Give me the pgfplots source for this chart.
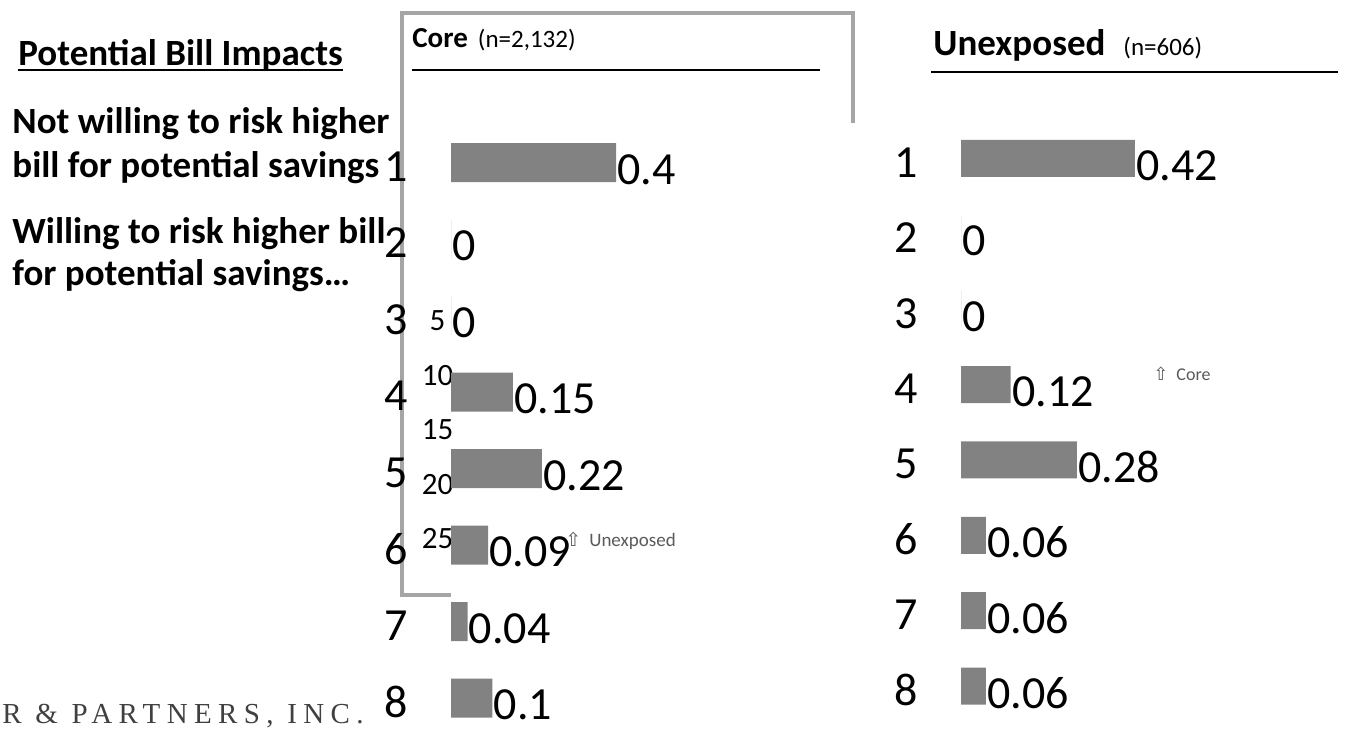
\documentclass[border=0pt]{standalone}
\usepackage{pgfplots}
\pgfplotsset{compat=1.18}
\usepackage{fontspec}
\setmainfont{Carlito}
\newfontfamily\serifx[LetterSpace=22]{Liberation Serif}
\newfontfamily\symb{DejaVu Sans}
\definecolor{barcol}{RGB}{130,130,130}
\definecolor{framecol}{RGB}{165,165,165}
\definecolor{notecol}{RGB}{90,90,90}

\pgfplotsset{
  barpanel/.style={
    scale only axis, clip=false,
    xmin=0, xmax=1, ymin=0.5, ymax=8.5, y dir=reverse,
    xtick=\empty, ytick={1,...,8},
    axis line style={draw=none}, major tick length=0pt,
    /pgf/number format/assume math mode=true,
    /pgf/number format/fixed, /pgf/number format/precision=2,
    yticklabel style={font=\fontsize{23}{23}\selectfont, anchor=east, inner sep=0pt, xshift=-21.5pt, yshift=-2pt},
    nodes near coords,
    nodes near coords style={font=\fontsize{23}{23}\selectfont, anchor=west, inner sep=0.5pt, yshift=-3.5pt, text=black},
  }
}

\begin{document}
\begin{tikzpicture}
% 1 px of the reference = 0.5pt
\useasboundingbox (0,0) rectangle (672.5pt,-370pt);
\begin{scope}[x=0.5pt,y=-0.5pt]
  % frame
  \draw[framecol, line width=2pt] (451,595) -- (402,595) -- (402,13) -- (853,13) -- (853,123);
  % left texts
  \node[anchor=base west, inner sep=0] (pbi) at (18,65) {\fontsize{18.5}{18.5}\selectfont\bfseries Potential Bill Impacts};
  \draw[line width=1.2pt] ([yshift=-2.5pt]pbi.base west) -- ([yshift=-2.5pt]pbi.base east);
  \node[anchor=base west, inner sep=0] at (12,133) {\fontsize{18.5}{18.5}\selectfont\bfseries Not willing to risk higher};
  \node[anchor=base west, inner sep=0] at (12,177) {\fontsize{18.5}{18.5}\selectfont\bfseries bill for potential savings};
  \node[anchor=base west, inner sep=0] at (12,243) {\fontsize{18.5}{18.5}\selectfont\bfseries Willing to risk higher bill};
  \node[anchor=base west, inner sep=0] at (12,285) {\fontsize{18.5}{18.5}\selectfont\bfseries for potential savings…};
  \node[anchor=base west, inner sep=0, text=black!75] at (2,723) {\serifx\fontsize{14.5}{14.5}\selectfont R \& PARTNERS, INC.};
  % titles
  \node[anchor=base west, inner sep=0] at (412,47) {\fontsize{14.5}{14.5}\selectfont\bfseries Core\hspace{5pt}{\mdseries\fontsize{12.5}{12.5}\selectfont (n=2,132)}};
  \draw[line width=1.2pt] (412,70) -- (820,70);
  \node[anchor=base west, inner sep=0] at (933,55) {\fontsize{18.5}{18.5}\selectfont\bfseries Unexposed\hspace{9pt}{\mdseries\fontsize{12.5}{12.5}\selectfont (n=606)}};
  \draw[line width=1.2pt] (931,72) -- (1338,72);
  % notes
  \node[anchor=base west, inner sep=0, text=notecol] at (1153,380) {\fontsize{9}{9}\selectfont{\symb ⇧}\hspace{4pt}Core};
  \node[anchor=base west, inner sep=0, text=notecol] at (565,546) {\fontsize{9.5}{9.5}\selectfont{\symb ⇧}\hspace{4pt}Unexposed};
\end{scope}

% stray axis numbers under the core bars
\begin{axis}[scale only axis, at={(218.75pt,-160.5pt)}, anchor=north west,
  width=1pt, height=109pt, xmin=0, xmax=1, ymin=5, ymax=25, y dir=reverse,
  xtick=\empty, ytick={5,10,...,25}, axis line style={draw=none}, major tick length=0pt,
  /pgf/number format/assume math mode=true,
  yticklabel style={font=\fontsize{15.5}{15.5}\selectfont, anchor=center, inner sep=0pt}]
  \addplot[draw=none] coordinates {(0,5) (0,25)};
\end{axis}

% Core
\begin{axis}[barpanel, at={(225.5pt,-62.125pt)}, anchor=north west,
  width=206.5pt, height=306pt]
  \addplot[xbar, fill=barcol, draw=none, bar width=19.5pt, point meta=x]
    coordinates {(0.40,1) (0,2) (0,3) (0.15,4) (0.22,5) (0.09,6) (0.04,7) (0.10,8)};
\end{axis}

% Unexposed
\begin{axis}[barpanel, at={(480.5pt,-60.4pt)}, anchor=north west,
  width=207pt, height=301.5pt]
  \addplot[xbar, fill=barcol, draw=none, bar width=18.5pt, point meta=x]
    coordinates {(0.42,1) (0,2) (0,3) (0.12,4) (0.28,5) (0.06,6) (0.06,7) (0.06,8)};
\end{axis}
\end{tikzpicture}
\end{document}
